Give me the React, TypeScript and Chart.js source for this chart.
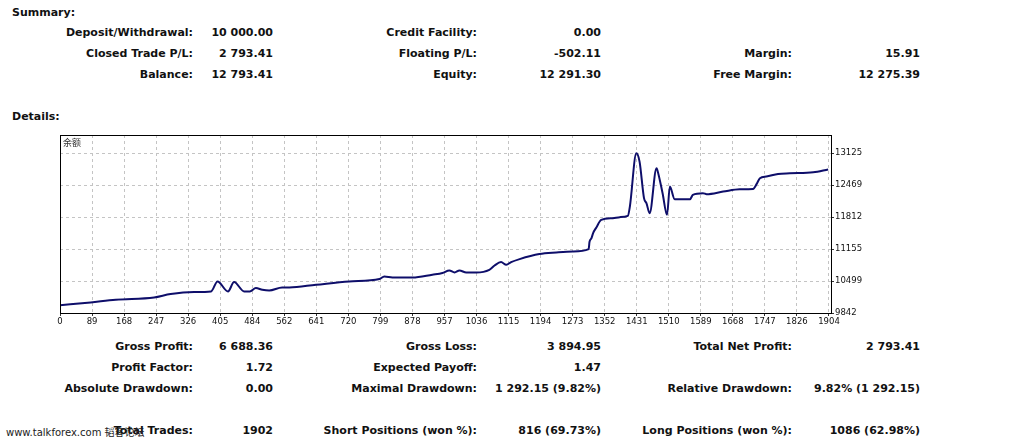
import React, { useEffect, useRef } from "react";
import { Chart, registerables } from "chart.js";

Chart.register(...registerables);

// ---------- data ----------
const tradeIndex = [
  0, 76, 138, 233, 274, 332, 374, 390, 416, 431, 456, 470, 485, 501, 518, 550, 568, 634, 716, 791,
  803, 823, 873, 922, 947, 964, 977, 989, 1006, 1031, 1063, 1076, 1092, 1105, 1117, 1138, 1187,
  1229, 1270, 1309, 1311, 1316, 1320, 1328, 1340, 1369, 1386, 1406, 1411, 1427, 1435, 1446, 1452,
  1460, 1477, 1479, 1492, 1503, 1510, 1522, 1560, 1567, 1592, 1601, 1642, 1683, 1716, 1725, 1733,
  1749, 1778, 1807, 1865, 1902,
];
const balance = [
  10000, 10060, 10115, 10162, 10232, 10273, 10285, 10490, 10285, 10478, 10285, 10285, 10355, 10320,
  10306, 10367, 10367, 10423, 10490, 10540, 10593, 10573, 10570, 10628, 10663, 10716, 10675, 10716,
  10675, 10675, 10730, 10819, 10888, 10833, 10888, 10950, 11053, 11086, 11106, 11155, 11300, 11381,
  11484, 11600, 11757, 11791, 11812, 11839, 12029, 13125, 12953, 12202, 12099, 11894, 12817, 12782,
  12304, 11859, 12440, 12181, 12181, 12270, 12304, 12284, 12337, 12386, 12392, 12495, 12612, 12645,
  12700, 12714, 12735, 12793,
];
const xTickLabels = [
  "0", "89", "168", "247", "326", "405", "484", "562", "641", "720", "799", "878", "957", "1036",
  "1115", "1194", "1273", "1352", "1431", "1510", "1589", "1668", "1747", "1826", "1904",
];
const yTickValues = [9842, 10499, 11155, 11812, 12469, 13125];
const seriesLabel = "余额";

const summaryRows = [
  ["Deposit/Withdrawal:", "10 000.00", "Credit Facility:", "0.00", "", ""],
  ["Closed Trade P/L:", "2 793.41", "Floating P/L:", "-502.11", "Margin:", "15.91"],
  ["Balance:", "12 793.41", "Equity:", "12 291.30", "Free Margin:", "12 275.39"],
];
const detailRows = [
  ["Gross Profit:", "6 688.36", "Gross Loss:", "3 894.95", "Total Net Profit:", "2 793.41"],
  ["Profit Factor:", "1.72", "Expected Payoff:", "1.47", "", ""],
  ["Absolute Drawdown:", "0.00", "Maximal Drawdown:", "1 292.15 (9.82%)", "Relative Drawdown:", "9.82% (1 292.15)"],
  ["Total Trades:", "1902", "Short Positions (won %):", "816 (69.73%)", "Long Positions (won %):", "1086 (62.98%)"],
];

// ---------- layout ----------
const W = 1019;
const colRight = [193, 273, 477, 601, 792, 920];
const summaryY = [33, 54, 75];
const detailY = [347, 368, 389, 431];
const TEXT_FONT = "'DejaVu Sans', Verdana, sans-serif";

function RText({ x, y, text }: { x: number; y: number; text: string }) {
  return (
    <div
      style={{
        position: "absolute",
        right: W - x,
        top: y - 8,
        lineHeight: "16px",
        whiteSpace: "nowrap",
        fontWeight: "bold",
        fontSize: 11,
        fontFamily: TEXT_FONT,
        color: "#111",
      }}
    >
      {text}
    </div>
  );
}

function Rows({ rows, ys }: { rows: string[][]; ys: number[] }) {
  return (
    <>
      {rows.map((r, i) =>
        r.map((t, j) => (t ? <RText key={i + "-" + j} x={colRight[j]} y={ys[i]} text={t} /> : null))
      )}
    </>
  );
}

const borderPlugin = {
  id: "plotBorder",
  afterDraw(chart: any) {
    const { ctx, chartArea } = chart;
    ctx.save();
    ctx.strokeStyle = "#000";
    ctx.lineWidth = 1;
    ctx.strokeRect(
      Math.round(chartArea.left) + 0.5,
      Math.round(chartArea.top) + 0.5,
      Math.round(chartArea.right - chartArea.left),
      Math.round(chartArea.bottom - chartArea.top)
    );
    ctx.restore();
  },
};

export default function App() {
  const ref = useRef<HTMLCanvasElement | null>(null);

  useEffect(() => {
    if (!ref.current) return;
    const step = 1904 / (xTickLabels.length - 1);
    const chart = new Chart(ref.current, {
      type: "line",
      data: {
        datasets: [
          {
            label: seriesLabel,
            data: tradeIndex.map((x, i) => ({ x, y: balance[i] })),
            borderColor: "#0e0e6a",
            borderWidth: 2,
            pointRadius: 0,
            cubicInterpolationMode: "monotone",
            fill: false,
          },
        ],
      },
      options: {
        animation: false,
        responsive: false,
        maintainAspectRatio: false,
        layout: { padding: { left: 60, top: 7, right: 0, bottom: 0 } },
        plugins: { legend: { display: false }, tooltip: { enabled: false } },
        scales: {
          x: {
            type: "linear",
            min: 0,
            max: 1909,
            afterBuildTicks: (scale: any) => {
              scale.ticks = xTickLabels.map((_, i) => ({ value: i * step }));
            },
            afterFit: (scale: any) => {
              scale.height = 15;
            },
            ticks: {
              autoSkip: false,
              maxRotation: 0,
              padding: 1,
              color: "#111",
              font: { family: "'DejaVu Sans', sans-serif", size: 8.5 },
              callback: (_v: any, i: number) => xTickLabels[i],
            },
            grid: {
              color: "#c4c4c4",
              tickColor: "#333",
              tickLength: 3,
              tickBorderDash: [],
            },
            border: { display: false, dash: [3, 3] },
          },
          y: {
            position: "right",
            min: 9842,
            max: 13500,
            afterBuildTicks: (scale: any) => {
              scale.ticks = yTickValues.map((v) => ({ value: v }));
            },
            afterFit: (scale: any) => {
              scale.width = 49;
            },
            ticks: {
              padding: 1,
              color: "#111",
              font: { family: "'DejaVu Sans', sans-serif", size: 8.5 },
              callback: (v: any) => String(v),
            },
            grid: {
              color: "#c4c4c4",
              tickColor: "#333",
              tickLength: 3,
              tickBorderDash: [],
            },
            border: { display: false, dash: [3, 3] },
          },
        },
      },
      plugins: [borderPlugin],
    } as any);
    return () => chart.destroy();
  }, []);

  return (
    <div
      style={{
        position: "absolute",
        left: 0,
        top: 0,
        width: W,
        height: 444,
        background: "#fff",
        overflow: "hidden",
        fontFamily: TEXT_FONT,
      }}
    >
      <div style={{ position: "absolute", left: 12, top: 5, lineHeight: "16px", fontWeight: "bold", fontSize: 11, color: "#111" }}>
        Summary:
      </div>
      <Rows rows={summaryRows} ys={summaryY} />
      <div style={{ position: "absolute", left: 12, top: 109, lineHeight: "16px", fontWeight: "bold", fontSize: 11, color: "#111" }}>
        Details:
      </div>
      <div style={{ position: "absolute", left: 0, top: 128, width: 880, height: 200 }}>
        <canvas ref={ref} width={880} height={200} style={{ width: 880, height: 200, display: "block" }} />
      </div>
      <div
        style={{
          position: "absolute",
          left: 63,
          top: 137,
          lineHeight: "12px",
          fontSize: 9,
          fontFamily: "'Noto Sans CJK SC', sans-serif",
          color: "#333",
        }}
      >
        {seriesLabel}
      </div>
      <Rows rows={detailRows} ys={detailY} />
      <div
        style={{
          position: "absolute",
          left: 6,
          top: 425,
          lineHeight: "14px",
          fontSize: 10,
          fontFamily: "'DejaVu Sans', 'Noto Sans CJK SC', sans-serif",
          color: "#222",
          whiteSpace: "nowrap",
        }}
      >
        www.talkforex.com <span style={{ fontFamily: "'Noto Sans CJK SC', sans-serif" }}>韬客论坛</span>
      </div>
    </div>
  );
}
